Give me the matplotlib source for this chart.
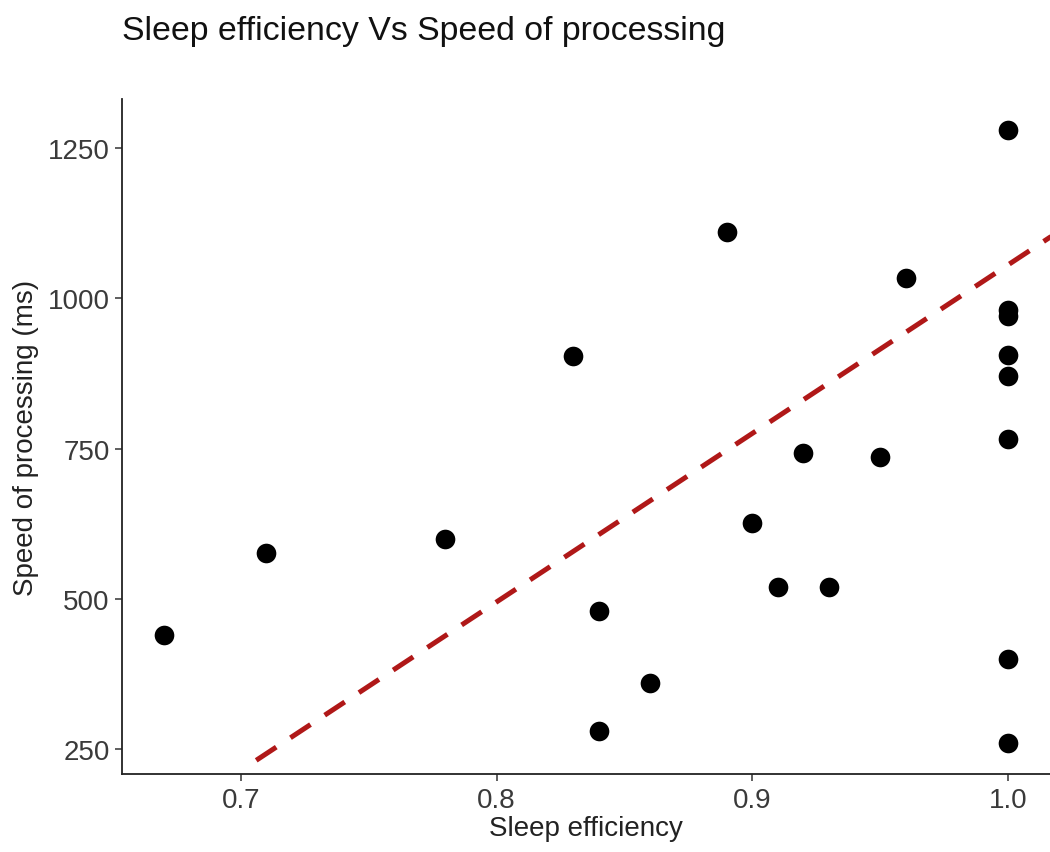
import matplotlib
matplotlib.use("Agg")
import matplotlib.pyplot as plt
import numpy as np

# values
sleep_eff = [0.67, 0.71, 0.78, 0.83, 0.84, 0.84, 0.86, 0.89, 0.90, 0.91, 0.92,
             0.93, 0.95, 0.96, 1.00, 1.00, 1.00, 1.00, 1.00, 1.00, 1.00, 1.00]
speed_ms = [440, 577, 600, 903, 480, 280, 360, 1110, 626, 520, 742,
            520, 736, 1033, 1280, 981, 971, 905, 870, 766, 400, 260]

# dashed trend line (slope / intercept / start)
fit_slope = 2800
fit_intercept = -1745
fit_x_start = 0.706

x_ticks = [0.7, 0.8, 0.9, 1.0]
y_ticks = [250, 500, 750, 1000, 1250]

plt.rcParams['font.family'] = ['Liberation Sans', 'DejaVu Sans']

fig = plt.figure(figsize=(10.5, 8.53), dpi=100)
ax = fig.add_axes([0.1162, 0.0914, 0.8838, 0.7914])

# ggplot-like 5% expansion of the data range
xr = max(sleep_eff) - min(sleep_eff)
yr = max(speed_ms) - min(speed_ms)
ax.set_xlim(min(sleep_eff) - 0.05 * xr, max(sleep_eff) + 0.05 * xr)
ax.set_ylim(min(speed_ms) - 0.05 * yr, max(speed_ms) + 0.05 * yr)

ax.scatter(sleep_eff, speed_ms, s=200, color='black', zorder=3, linewidths=0)

fx = np.array([fit_x_start, ax.get_xlim()[1] + 0.01])
ax.plot(fx, fit_intercept + fit_slope * fx, color='#b01818', lw=3.6,
        dashes=(4.8, 3.4), dash_capstyle='butt', zorder=2)

ax.set_xticks(x_ticks)
ax.set_xticklabels(['%.1f' % t for t in x_ticks])
ax.set_yticks(y_ticks)

for side in ['top', 'right']:
    ax.spines[side].set_visible(False)
for side in ['left', 'bottom']:
    ax.spines[side].set_linewidth(1.3)
    ax.spines[side].set_color('#222222')

ax.tick_params(axis='both', length=5, width=1.1, color='#333333',
               labelsize=20, labelcolor='#3a3a3a', pad=4)

ax.set_xlabel("Sleep efficiency", fontsize=20, color='#222222', labelpad=2)
ax.set_ylabel("Speed of processing (ms)", fontsize=20, color='#222222', labelpad=6)

fig.text(0.1162, 0.953, "Sleep efficiency Vs Speed of processing",
         fontsize=24.4, color='#111111', ha='left', va='baseline')

fig.savefig("out.png", dpi=100)
